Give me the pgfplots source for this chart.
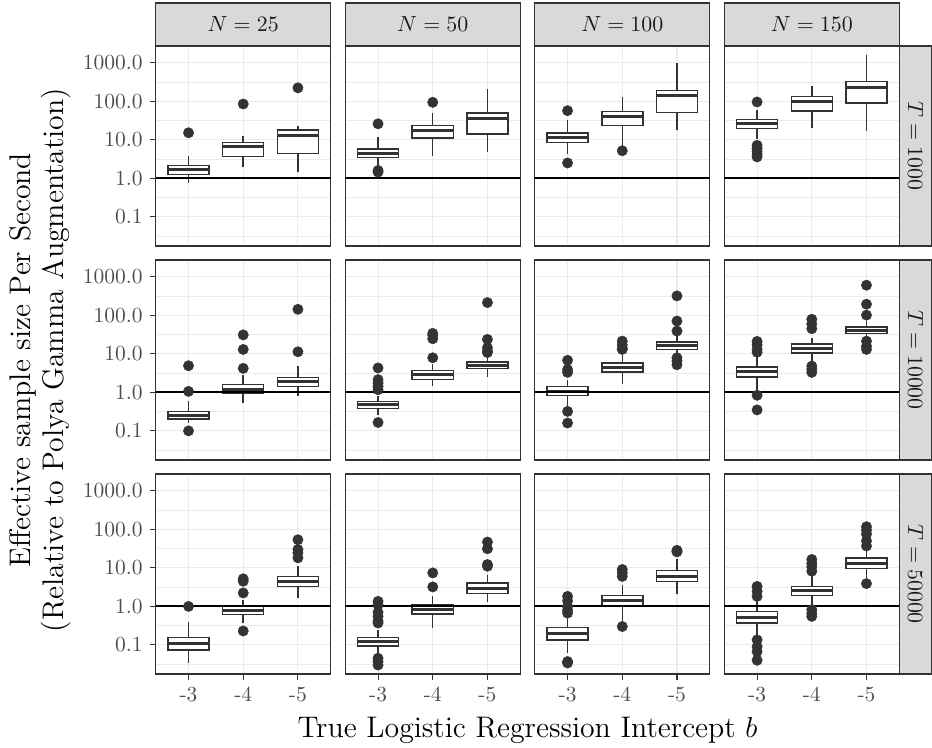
\documentclass[border=0pt]{standalone}
\usepackage{fontspec}
\usepackage{pgfplots}
\pgfplotsset{compat=1.18}
\usepgfplotslibrary{groupplots,statistics}
\definecolor{grey10}{HTML}{1A1A1A}
\definecolor{grey20}{HTML}{333333}
\definecolor{grey30}{HTML}{4D4D4D}
\definecolor{grey85}{HTML}{D9D9D9}
\definecolor{grey92}{HTML}{EBEBEB}
\pgfplotsset{
  bp/.style={draw=grey20, line width=0.75pt, solid, mark=*, mark size=2.6pt,
    mark options={fill=grey20, draw=grey20, line width=0.2pt},
    boxplot/draw direction=y,
    boxplot/box extend=0.75, boxplot/whisker extend=0,
    boxplot/every box/.style={fill=white, draw=grey20},
    boxplot/every median/.style={line width=1.5pt}},
  nox/.style={xtick style={draw=none}},
  noy/.style={ytick style={draw=none}},
}
% \bx{position}{lower whisker}{lower quartile}{median}{upper quartile}{upper whisker}{outliers}
\newcommand{\bx}[7]{%
  \gdef\bxout{}%
  \def\bxlist{#7}%
  \ifx\bxlist\empty\else
    \foreach \v in {#7}{\xdef\bxout{\bxout (#1,\v)}}%
  \fi
  \edef\bxtmp{\noexpand\addplot[bp, boxplot prepared={draw position=#1, lower whisker=#2, lower quartile=#3, median=#4, upper quartile=#5, upper whisker=#6}] coordinates {\bxout};}%
  \bxtmp}
\newcommand{\hl}{\addplot[black, line width=0.9pt] coordinates {(0.4,1) (3.6,1)};}
\begin{document}
\begin{tikzpicture}
\begin{groupplot}[
  group style={group size=4 by 3, horizontal sep=7.25pt, vertical sep=7pt,
    xticklabels at=edge bottom, yticklabels at=edge left},
  scale only axis, width=87.5pt, height=100pt,
  ymode=log, ymin=0.0175, ymax=2722,
  xmin=0.4, xmax=3.6, xtick={1,2,3}, xticklabels={-3,-4,-5},
  ytick={0.1,1,10,100,1000}, yticklabels={0.1,1.0,10.0,100.0,1000.0},
  minor ytick={0.0316228,0.316228,3.16228,31.6228,316.228},
  grid=both,
  major grid style={draw=grey92, line width=0.55pt},
  minor grid style={draw=grey92, line width=0.3pt},
  axis line style={draw=grey20, line width=0.6pt},
  xtick pos=bottom, ytick pos=left, tick align=outside,
  major tick length=3pt, minor tick length=0pt,
  tick style={draw=grey20, line width=0.55pt},
  ticklabel style={font=\fontsize{10.75}{12}\selectfont, text=grey30},
]
% ---- Row 1: T = 1000
\nextgroupplot[nox]
\bx{1}{0.74}{1.27}{1.65}{2.14}{3.8}{15.2}
\bx{2}{1.94}{3.67}{6.7}{8.5}{12.2}{85}
\bx{3}{1.49}{4.4}{12.7}{17.9}{23.2}{223}
\hl
\nextgroupplot[nox,noy]
\bx{1}{2.1}{3.46}{4.49}{5.8}{11.5}{26,1.45,1.6}
\bx{2}{3.9}{11.0}{17.9}{23.2}{50.6}{94}
\bx{3}{4.7}{14.1}{36.7}{49.6}{214}{}
\hl
\nextgroupplot[nox,noy]
\bx{1}{4.3}{8.5}{11.3}{14.9}{31.9}{57,2.5}
\bx{2}{7.0}{23.2}{41.4}{54.8}{127}{5.2}
\bx{3}{17.5}{51.6}{140}{190}{1000}{}
\hl
\nextgroupplot[nox,noy]
\bx{1}{10.4}{19.8}{26.1}{33.9}{60.6}{96,3.6,4.2,5.0,6.0,7.2}
\bx{2}{20.6}{56}{98}{132}{246}{}
\bx{3}{17.2}{90.5}{232}{326}{1585}{}
\hl
% ---- Row 2: T = 10000
\nextgroupplot[nox]
\bx{1}{0.158}{0.201}{0.256}{0.319}{0.58}{0.10,1.06,4.9}
\bx{2}{0.53}{0.92}{1.22}{1.62}{2.9}{4.2,13,31}
\bx{3}{0.82}{1.41}{1.86}{2.41}{4.7}{11.3,143}
\hl
\nextgroupplot[nox,noy]
\bx{1}{0.26}{0.38}{0.48}{0.58}{0.79}{1.17,1.43,1.75,2.14,4.3,0.165}
\bx{2}{1.43}{2.14}{2.83}{3.67}{5.3}{7.9,24.6,30,34}
\bx{3}{2.5}{4.1}{5.06}{6.2}{8.3}{10.8,11.7,14.3,23.7,214}
\hl
\nextgroupplot[nox,noy]
\bx{1}{0.43}{0.82}{1.08}{1.43}{2.14}{3.3,3.9,6.8,0.32,0.16}
\bx{2}{1.68}{3.39}{4.49}{5.8}{9.1}{13,14,17,21.4}
\bx{3}{8.3}{13}{16.2}{20.1}{30}{39,71,319,7.9,6.5,5.2}
\hl
\nextgroupplot[nox,noy]
\bx{1}{1.17}{2.51}{3.39}{4.58}{8.3}{11,13,17,21,0.84,0.35}
\bx{2}{6.2}{10.6}{13.8}{17.9}{26}{45,60,79,4.8,4.0,3.3}
\bx{3}{27.8}{33.3}{40.6}{49.6}{71}{101,194,605,21.4,15.8,13}
\hl
% ---- Row 3: T = 50000
\nextgroupplot[]
\bx{1}{0.033}{0.074}{0.108}{0.155}{0.40}{1.0}
\bx{2}{0.37}{0.62}{0.79}{1.0}{1.49}{0.23,2.23,4.49,5.2}
\bx{3}{1.65}{3.33}{4.49}{5.9}{11}{18.2,24.6,30,53.7}
\hl
\nextgroupplot[noy]
\bx{1}{0.055}{0.094}{0.122}{0.158}{0.246}{0.37,0.42,0.55,0.7,1.1,1.35,0.045,0.037,0.030}
\bx{2}{0.27}{0.63}{0.85}{1.1}{1.82}{3.2,7.4}
\bx{3}{1.27}{2.14}{2.83}{4.06}{6.7}{11,12.2,31.3,46.7}
\hl
\nextgroupplot[noy]
\bx{1}{0.061}{0.135}{0.2}{0.283}{0.55}{0.67,0.8,1.0,1.4,1.82,0.037,0.034}
\bx{2}{0.41}{1.04}{1.41}{1.94}{3.67}{0.30,6.0,7.5,9.1}
\bx{3}{2.14}{4.4}{6.07}{8.5}{16.5}{26,27.2,28.5}
\hl
\nextgroupplot[noy]
\bx{1}{0.18}{0.367}{0.516}{0.726}{1.65}{1.82,2.46,3.3,0.135,0.09,0.067,0.04}
\bx{2}{1.0}{1.9}{2.51}{3.33}{6.7}{8.2,10.6,13,16.5,0.82,0.65,0.55}
\bx{3}{5.5}{9.6}{13.2}{17.9}{33.2}{37,50,75,95,117,3.9}
\hl
\end{groupplot}
% strips
\foreach \c/\n in {1/25,2/50,3/100,4/150}{
  \draw[grey20, line width=0.6pt, fill=grey85] (group c\c r1.north west) rectangle ([yshift=21.5pt]group c\c r1.north east);
  \node[text=grey10, font=\fontsize{10.75}{12}\selectfont] at ([yshift=10.75pt]group c\c r1.north) {$N = \n$};
}
\foreach \r/\t in {1/1000,2/10000,3/50000}{
  \draw[grey20, line width=0.6pt, fill=grey85] (group c4r\r.south east) rectangle ([xshift=16.35pt]group c4r\r.north east);
  \node[text=grey10, rotate=-90, font=\fontsize{10.75}{12}\selectfont] at ([xshift=8.175pt]group c4r\r.east) {$T = \t$};
}
% axis titles
\node[rotate=90, align=center, inner sep=0pt, font=\fontsize{14.9}{16.5}\selectfont] at ([xshift=-57.85pt]group c1r2.west) {Effective sample size Per Second\\(Relative to Polya Gamma Augmentation)};
\path (group c2r3.south east) -- (group c3r3.south west) node[midway, yshift=-31.5pt, anchor=base, inner sep=0pt, font=\fontsize{14.9}{16.5}\selectfont] {True Logistic Regression Intercept $b$};
\pgfresetboundingbox
\path[use as bounding box] ([xshift=-77.85pt, yshift=23pt]group c1r1.north west) rectangle ([xshift=16.35pt, yshift=-36.5pt]group c4r3.south east);
\end{tikzpicture}
\end{document}
